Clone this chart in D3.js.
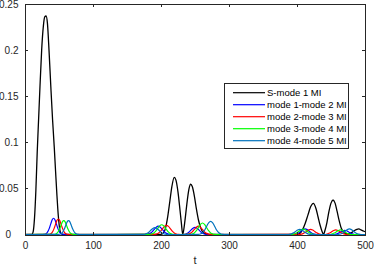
<!DOCTYPE html>
<html>
<head>
<meta charset="utf-8">
<script src="https://cdn.jsdelivr.net/npm/d3@7"></script>
<style>
    body { margin: 0; background: #ffffff; }
    text { font-family: "Liberation Sans", Arial, sans-serif; }
</style>
</head>
<body>
<div id="chart"></div>
<script>
// t values and mutual information, one pair of arrays per curve
const tS1 = [0, 10, 12, 14, 16, 18, 20, 22, 24.5, 27, 29, 31, 33, 35.3, 38, 40.5, 43, 45, 47, 49, 51, 53, 56,
    200, 204, 207, 210, 213, 216, 219.5, 222, 225, 228, 230, 232, 234, 236, 238, 241, 243.5, 246, 249, 252, 255, 258, 261, 265, 270,
    400, 404, 408, 412, 416, 420, 424, 428, 431, 434, 437, 439, 441, 444, 447, 450, 453, 456, 459, 462, 465, 468, 472, 476, 480, 484, 488, 491, 494, 497, 500];
const vS1 = [0, 0, 0.003, 0.018, 0.048, 0.09, 0.125, 0.16, 0.2, 0.226, 0.236, 0.237, 0.229, 0.2, 0.16, 0.125, 0.095, 0.068, 0.042, 0.02, 0.006, 0.001, 0,
    0, 0.002, 0.008, 0.02, 0.036, 0.052, 0.062, 0.059, 0.046, 0.026, 0.012, 0, 0.008, 0.02, 0.033, 0.049, 0.0545, 0.052, 0.042, 0.028, 0.016, 0.008, 0.003, 0.001, 0,
    0, 0.001, 0.005, 0.012, 0.021, 0.03, 0.0338, 0.028, 0.019, 0.01, 0.003, 0, 0.004, 0.013, 0.025, 0.034, 0.0374, 0.034, 0.025, 0.015, 0.007, 0.003, 0.001, 0.001, 0.002, 0.004, 0.0055, 0.006, 0.005, 0.004, 0.003];

const tM12 = [0, 26, 28, 30, 32, 34, 36, 38, 40, 42, 44, 46, 48, 50, 52, 54, 56, 58,
    176, 178, 181, 184, 187, 190, 193, 196, 199, 202, 205, 208, 211, 214, 217,
    232, 235, 238, 241, 244, 247, 250, 253, 256, 259, 262, 265, 268,
    394, 397, 400, 403, 406, 409, 412, 415, 418, 421, 424, 427, 430,
    455, 458, 461, 464, 467, 470, 473, 476, 479, 482, 485, 500];
const vM12 = [0, 0, 0.0001, 0.0005, 0.0015, 0.0037, 0.0072, 0.0118, 0.016, 0.0176, 0.016, 0.0118, 0.0072, 0.0037, 0.0015, 0.0005, 0.0001, 0,
    0, 0.0001, 0.0004, 0.0012, 0.0029, 0.0055, 0.0079, 0.009, 0.0079, 0.0055, 0.0029, 0.0012, 0.0004, 0.0001, 0,
    0, 0.0003, 0.0011, 0.0025, 0.0047, 0.0069, 0.0078, 0.0069, 0.0047, 0.0025, 0.0011, 0.0003, 0,
    0, 0.0003, 0.0008, 0.002, 0.0036, 0.0053, 0.006, 0.0053, 0.0036, 0.002, 0.0008, 0.0003, 0,
    0, 0.0006, 0.0015, 0.0027, 0.004, 0.0045, 0.004, 0.0027, 0.0015, 0.0006, 0, 0];

const tM23 = [0, 35, 37, 39, 41, 43, 45, 47, 49, 51, 53, 55, 57, 59, 61, 63, 65,
    190, 193, 196, 199, 202, 205, 208, 211, 214, 217, 220, 223, 226, 229,
    237, 240, 243, 246, 249, 252, 255, 258, 261, 264, 267, 270, 273, 276,
    402, 405, 408, 411, 414, 417, 420, 423, 426, 429, 432, 435, 438,
    442, 445, 448, 451, 454, 457, 460, 463, 466, 469, 472, 475, 500];
const vM23 = [0, 0.0001, 0.0005, 0.0014, 0.0035, 0.0069, 0.0113, 0.0153, 0.0168, 0.0153, 0.0113, 0.0069, 0.0035, 0.0014, 0.0005, 0.0001, 0,
    0.0001, 0.0004, 0.0014, 0.0033, 0.0061, 0.0088, 0.01, 0.0088, 0.0061, 0.0033, 0.0014, 0.0004, 0.0001, 0,
    0.0001, 0.0004, 0.0012, 0.0029, 0.0055, 0.0079, 0.009, 0.0079, 0.0055, 0.0029, 0.0012, 0.0004, 0.0001, 0,
    0.0001, 0.0002, 0.0007, 0.0018, 0.0033, 0.0049, 0.0055, 0.0049, 0.0033, 0.0018, 0.0007, 0.0002, 0,
    0, 0.0007, 0.0016, 0.003, 0.0044, 0.005, 0.0044, 0.003, 0.0016, 0.0007, 0.0002, 0, 0];

const tM34 = [0, 43, 45, 47, 49, 51, 53, 55, 57, 59, 61, 63, 65, 67, 69, 71, 73,
    183, 186, 189, 192, 195, 198, 201, 204, 207, 210, 213, 216, 219, 222,
    243, 246, 249, 252, 255, 258, 261, 264, 267, 270, 273, 276, 279, 282,
    391, 394, 397, 400, 403, 406, 409, 412, 415, 418, 421, 424, 427,
    449, 452, 455, 458, 461, 464, 467, 470, 473, 476, 479, 482, 500];
const vM34 = [0, 0.0001, 0.0005, 0.0013, 0.0032, 0.0062, 0.0101, 0.0137, 0.015, 0.0137, 0.0101, 0.0062, 0.0032, 0.0013, 0.0005, 0.0001, 0,
    0.0001, 0.0005, 0.0014, 0.0034, 0.0064, 0.0093, 0.0106, 0.0093, 0.0064, 0.0034, 0.0014, 0.0005, 0.0001, 0,
    0.0001, 0.0006, 0.0017, 0.0041, 0.0076, 0.011, 0.0125, 0.011, 0.0076, 0.0041, 0.0017, 0.0006, 0.0001, 0,
    0, 0.0003, 0.0008, 0.0019, 0.0035, 0.0051, 0.0058, 0.0051, 0.0035, 0.0019, 0.0008, 0.0003, 0,
    0, 0.0007, 0.0016, 0.003, 0.0044, 0.005, 0.0044, 0.003, 0.0016, 0.0007, 0.0002, 0, 0];

const tM45 = [0, 50, 52, 54, 56, 58, 60, 62, 64, 66, 68, 70, 72, 74, 76, 78, 80,
    173, 176, 179, 182, 185, 188, 191, 194, 197, 200, 203, 206, 209, 212,
    255, 258, 261, 264, 267, 270, 273, 276, 279, 282, 285, 288, 291, 294,
    386, 389, 392, 395, 398, 401, 404, 407, 410, 413, 416, 419, 422,
    459, 462, 465, 468, 471, 474, 477, 480, 483, 486, 489, 492, 495, 500];
const vM45 = [0, 0.0001, 0.0005, 0.0013, 0.0032, 0.0062, 0.0101, 0.0137, 0.015, 0.0137, 0.0101, 0.0062, 0.0032, 0.0013, 0.0005, 0.0001, 0,
    0.0001, 0.0003, 0.001, 0.0024, 0.0046, 0.0066, 0.0075, 0.0066, 0.0046, 0.0024, 0.001, 0.0003, 0.0001, 0,
    0.0002, 0.0006, 0.0019, 0.0046, 0.0087, 0.0126, 0.0143, 0.0126, 0.0087, 0.0046, 0.0019, 0.0006, 0.0002, 0,
    0, 0.0002, 0.0007, 0.0018, 0.0033, 0.0049, 0.0055, 0.0049, 0.0033, 0.0018, 0.0007, 0.0002, 0,
    0, 0.0003, 0.0008, 0.002, 0.0036, 0.0053, 0.006, 0.0053, 0.0036, 0.002, 0.0008, 0.0003, 0, 0];

const seriesNames = ["S-mode 1 MI", "mode 1-mode 2 MI", "mode 2-mode 3 MI", "mode 3-mode 4 MI", "mode 4-mode 5 MI"];
const seriesColors = ["#000000", "#0000ff", "#ff0000", "#00ff00", "#0072bd"];
const xTicks = [0, 100, 200, 300, 400, 500];
const yTicks = [0, 0.05, 0.1, 0.15, 0.2, 0.25];
const yTickLabels = ["0", "0.05", "0.1", "0.15", "0.2", "0.25"];

const width = 374, height = 265;
const plotLeft = 25, plotRight = 365, plotTop = 4, plotBottom = 234.5;
const axisColor = "#262626";

let svg = d3.select("#chart")
    .append("svg")
    .attr("width", width)
    .attr("height", height);

let x = d3.scaleLinear().domain([0, 500]).range([plotLeft, plotRight]);
let y = d3.scaleLinear().domain([0, 0.25]).range([plotBottom, plotTop]);

let series = [[tS1, vS1], [tM12, vM12], [tM23, vM23], [tM34, vM34], [tM45, vM45]].map(function (p, i) {
    return {
        name: seriesNames[i],
        color: seriesColors[i],
        points: p[0].map(function (t, j) { return [t, p[1][j]]; })
    };
});

let line = d3.line()
    .x(function (d) { return x(d[0]); })
    .y(function (d) { return y(d[1]); })
    .curve(d3.curveMonotoneX);

svg.append("g")
    .selectAll("path")
    .data(series)
    .enter()
    .append("path")
    .attr("d", function (d) { return line(d.points); })
    .style("fill", "none")
    .style("stroke", function (d) { return d.color; })
    .style("stroke-width", function (d, i) { return i === 0 ? 1.3 : 1.2; });

// axes, ticks pointing inward on all four sides like matlab's box
function styleAxis(g) {
    g.selectAll("path, line").style("stroke", axisColor).style("shape-rendering", "crispEdges");
    g.selectAll("text")
        .style("fill", axisColor)
        .style("font-size", "10px")
        .style("font-family", "'Liberation Sans', Arial, sans-serif");
}

svg.append("g")
    .attr("transform", "translate(0," + plotBottom + ")")
    .call(d3.axisBottom(x).tickValues(xTicks).tickSizeInner(-3).tickSizeOuter(0).tickPadding(7))
    .call(styleAxis);

svg.append("g")
    .attr("transform", "translate(0," + plotTop + ")")
    .call(d3.axisTop(x).tickValues(xTicks).tickSizeInner(-3).tickSizeOuter(0).tickFormat(""))
    .call(styleAxis);

let yAxis = svg.append("g")
    .attr("transform", "translate(" + plotLeft + ",0)")
    .call(d3.axisLeft(y).tickValues(yTicks).tickSizeInner(-3).tickSizeOuter(0).tickPadding(6.5)
        .tickFormat(function (d, i) { return yTickLabels[i]; }))
    .call(styleAxis);
// the zero on the y axis sits further left in the figure
yAxis.selectAll(".tick text").filter(function (d) { return d === 0; }).attr("x", -14);

svg.append("g")
    .attr("transform", "translate(" + plotRight + ",0)")
    .call(d3.axisRight(y).tickValues(yTicks).tickSizeInner(-3).tickSizeOuter(0).tickFormat(""))
    .call(styleAxis);

svg.append("text")
    .attr("x", (plotLeft + plotRight) / 2)
    .attr("y", 263.5)
    .attr("text-anchor", "middle")
    .style("font-size", "11px")
    .style("fill", axisColor)
    .text("t");

// legend
let legend = svg.append("g").attr("transform", "translate(224,83)");
legend.append("rect")
    .attr("width", 124)
    .attr("height", 65)
    .style("fill", "#ffffff")
    .style("stroke", axisColor)
    .style("stroke-width", 1)
    .style("shape-rendering", "crispEdges");

let entry = legend.selectAll("g.entry")
    .data(series)
    .enter()
    .append("g")
    .attr("class", "entry")
    .attr("transform", function (d, i) { return "translate(0," + (9.7 + i * 12) + ")"; });

entry.append("line")
    .attr("x1", 9)
    .attr("x2", 41)
    .style("stroke", function (d) { return d.color; })
    .style("stroke-width", 1.2);

entry.append("text")
    .attr("x", 43)
    .attr("dy", "0.35em")
    .style("font-size", "9.5px")
    .style("fill", "#000000")
    .text(function (d) { return d.name; });
</script>
</body>
</html>
